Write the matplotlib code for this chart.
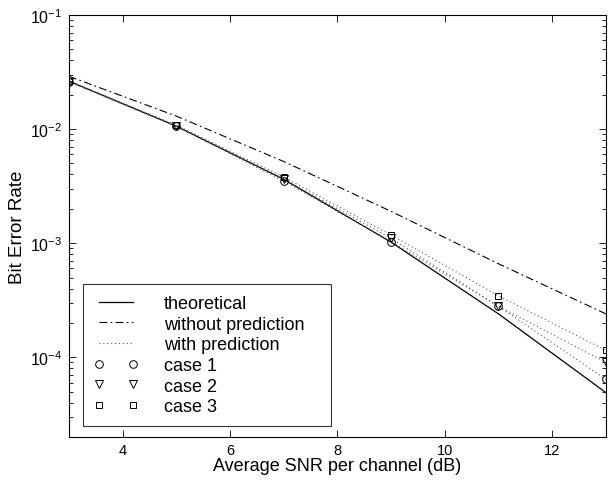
import matplotlib
matplotlib.use("Agg")
import matplotlib.pyplot as plt
from matplotlib.lines import Line2D

plt.rcParams['font.family'] = ['Liberation Sans', 'DejaVu Sans']
plt.rcParams['mathtext.fontset'] = 'custom'
plt.rcParams['mathtext.rm'] = 'Liberation Sans'
plt.rcParams['mathtext.it'] = 'Liberation Sans:italic'
plt.rcParams['mathtext.default'] = 'regular'

snr = [3, 5, 7, 9, 11, 13]
theoretical = [2.63e-2, 1.06e-2, 3.63e-3, 1.02e-3, 2.4e-4, 4.9e-5]
without_pred = [2.9e-2, 1.3e-2, 5.2e-3, 1.9e-3, 6.6e-4, 2.4e-4]
case1 = [2.6e-2, 1.06e-2, 3.5e-3, 1.03e-3, 2.8e-4, 6.4e-5]
case2 = [2.6e-2, 1.07e-2, 3.65e-3, 1.1e-3, 2.8e-4, 9.0e-5]
case3 = [2.65e-2, 1.08e-2, 3.8e-3, 1.18e-3, 3.45e-4, 1.15e-4]

labels = ["theoretical", "without prediction", "with prediction",
          "case 1", "case 2", "case 3"]

fig = plt.figure(figsize=(6.12, 4.81), dpi=100)
ax = fig.add_axes([0.1127, 0.0894, 0.8773, 0.8773])

dashdot = (0, (7, 3, 1.5, 3))
dot = (0, (1, 2.5))
ax.semilogy(snr, theoretical, color='black', lw=0.9, ls='-')
ax.semilogy(snr, without_pred, color='black', lw=0.8, ls=dashdot)
for c in (case1, case2, case3):
    ax.semilogy(snr, c, color='0.35', lw=0.8, ls=dot)
mk = dict(ls='none', mfc='none', mec='black', mew=0.7)
ax.semilogy(snr, case1, marker='o', ms=5.5, **mk)
ax.semilogy(snr, case2, marker='v', ms=5.5, **mk)
ax.semilogy(snr, case3, marker='s', ms=5, **mk)

ax.set_xlim(3, 13)
ax.set_ylim(2e-5, 1e-1)
ax.set_xticks([4, 6, 8, 10, 12])
ax.tick_params(which='both', direction='in', top=True, right=True, width=0.6)
ax.tick_params(which='major', length=5)
ax.tick_params(which='minor', length=3)
ax.tick_params(axis='x', labelsize=10.5, pad=4)
ax.tick_params(axis='y', labelsize=11.5, pad=5)
for s in ax.spines.values():
    s.set_linewidth(0.8)

ax.set_xlabel("Average SNR per channel (dB)", fontsize=13, labelpad=0)
ax.set_ylabel("Bit Error Rate", fontsize=13.5, labelpad=3)

handles = [
    Line2D([], [], color='black', lw=0.9, ls='-'),
    Line2D([], [], color='black', lw=0.8, ls=dashdot),
    Line2D([], [], color='0.35', lw=0.8, ls=dot),
    Line2D([], [], marker='o', ms=5.5, **mk),
    Line2D([], [], marker='v', ms=5.5, **mk),
    Line2D([], [], marker='s', ms=5, **mk),
]
leg = ax.legend(handles, labels, loc='lower left',
                bbox_to_anchor=(0.026, 0.026, 0.462, 0.3),
                mode='expand', borderaxespad=0, fontsize=13, numpoints=2,
                handlelength=2.45, handletextpad=1.45, labelspacing=0.2,
                frameon=True, fancybox=False, borderpad=0.6)
leg.get_frame().set_edgecolor('black')
leg.get_frame().set_linewidth(0.8)

fig.savefig("out.png", dpi=100)
